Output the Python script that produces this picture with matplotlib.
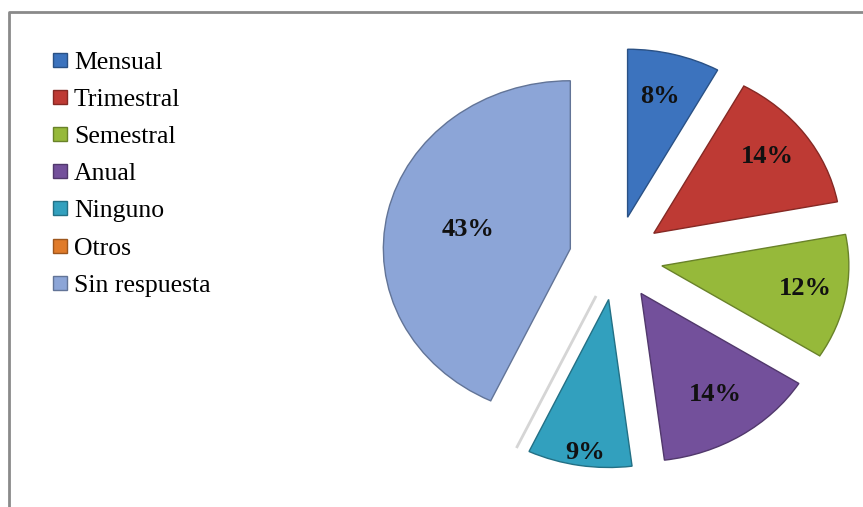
import numpy as np
import matplotlib
matplotlib.use("Agg")
import matplotlib.pyplot as plt
from matplotlib.lines import Line2D
from matplotlib.colors import to_rgb

# Datos
categorias = ["Mensual", "Trimestral", "Semestral", "Anual", "Ninguno", "Otros", "Sin respuesta"]
porcentajes = [8, 14, 12, 14, 9, 0, 43]
colores = ["#3C73BE", "#BE3A34", "#96B93A", "#73509B", "#32A0BE", "#E07B2A", "#8CA5D7"]
# distancia de cada etiqueta desde el vertice de su porcion (ajuste "mejor ajuste")
dist_etiquetas = [0.74, 0.76, 0.78, 0.72, 0.92, 0.5, 0.56]


def oscurecer(c, f=0.6):
    r, g, b = to_rgb(c)
    return (r * f, g * f, b * f)


def etiqueta(p):
    return f"{p:.0f}%" if p > 0.5 else ""


plt.rcParams["font.family"] = ["Liberation Serif", "DejaVu Serif"]

fig = plt.figure(figsize=(8.63, 5.07), dpi=100)
fig.patch.set_facecolor("white")

ax = fig.add_axes([0.4104, 0.0272, 0.585, 0.928])
wedges, textos, autotextos = ax.pie(
    porcentajes,
    colors=colores,
    explode=[0.25] * len(porcentajes),
    startangle=90,
    counterclock=False,
    autopct=etiqueta,
    wedgeprops=dict(linewidth=1.0),
    textprops=dict(fontsize=19, fontweight="bold", color="#111111"),
)
for w, c in zip(wedges, colores):
    w.set_edgecolor(oscurecer(c, 0.7))
# la porcion "Otros" (0%) solo se ve como una linea tenue
wedges[5].set_edgecolor("#d5d5d5")
wedges[5].set_linewidth(2)

# reubicar las etiquetas de porcentaje
for w, t, d in zip(wedges, autotextos, dist_etiquetas):
    ang = np.deg2rad((w.theta1 + w.theta2) / 2 + 1)
    cx, cy = w.center
    t.set_position((cx + d * np.cos(ang), cy + d * np.sin(ang)))

ax.set_aspect("auto")
ax.set_xlim(-1.4, 1.3)
ax.set_ylim(-1.4, 1.4)
ax.axis("off")

# Leyenda
handles = [Line2D([], [], marker="s", linestyle="none", markersize=10,
                  markerfacecolor=c, markeredgecolor=oscurecer(c, 0.7))
           for c in colores]
fig.legend(handles, categorias, loc="upper left",
           bbox_to_anchor=(52 / 863, 1 - 51 / 507),
           frameon=False, fontsize=18.5, borderpad=0, borderaxespad=0,
           handlelength=0.6, handletextpad=0.25, labelspacing=0.55)

# Marco del area del grafico
fig.add_artist(Line2D([9 / 863, 9 / 863, 1.0], [0.0, 1 - 12 / 507, 1 - 12 / 507],
                      transform=fig.transFigure, color="#8a8a8a", linewidth=2))

fig.savefig("out.png", dpi=100, facecolor="white")
